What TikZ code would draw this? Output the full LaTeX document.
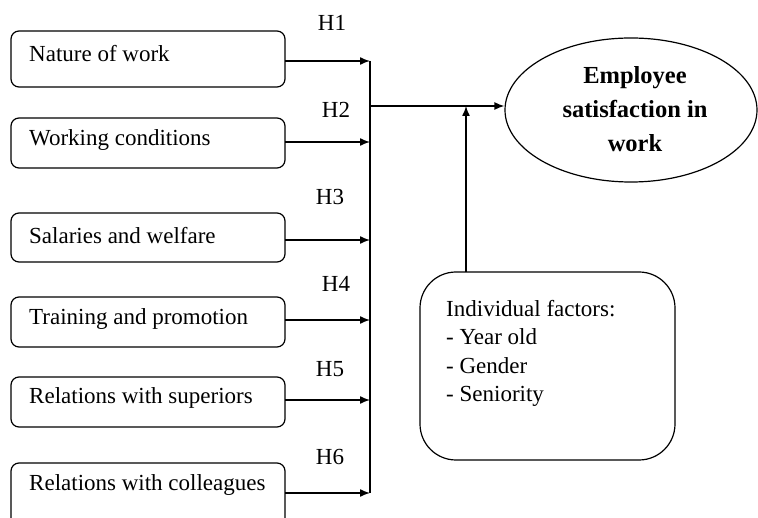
\documentclass[tikz,border=0pt]{standalone}
\usepackage{fontspec}
\setmainfont{Liberation Serif}
\usetikzlibrary{arrows.meta,shapes.geometric}
\begin{document}
\begin{tikzpicture}[x=1pt,y=-1pt,
  factorbox/.style={draw,line width=1.2pt,rounded corners=8pt},
  lbl/.style={font=\fontsize{23}{27}\selectfont,inner sep=0pt,anchor=west},
  hyp/.style={font=\fontsize{23}{27}\selectfont,inner sep=0pt},
  conn/.style={line width=1.4pt},
  arr/.style={line width=1.4pt,-{Latex[length=10pt,width=8pt]}}]
\useasboundingbox (0,0) rectangle (758,518);
\clip (0,0) rectangle (758,518);
% left boxes
\draw[factorbox] (11,31) rectangle (285,87);
\draw[factorbox] (11,118) rectangle (285,168);
\draw[factorbox] (11,213) rectangle (285,262);
\draw[factorbox] (11,297) rectangle (285,347);
\draw[factorbox] (11,377) rectangle (285,427);
\draw[factorbox] (11,463) rectangle (285,530);
\node[lbl] (t1) at (29,54) {Nature of work};
\node[lbl] (t2) at (29,140) {Working conditions};
\node[lbl] (t3) at (29,236) {Salaries and welfare};
\node[lbl] (t4) at (29,319) {Training and promotion};
\node[lbl] (t5) at (29,398) {Relations with superiors};
\node[lbl] (t6) at (29,485) {Relations with colleagues};
% junctions
\coordinate (s1) at (285,61); \coordinate (e1) at (370,61);
\coordinate (s2) at (285,142); \coordinate (e2) at (370,142);
\coordinate (s3) at (285,240); \coordinate (e3) at (370,240);
\coordinate (s4) at (285,320); \coordinate (e4) at (370,320);
\coordinate (s5) at (285,400); \coordinate (e5) at (370,400);
\coordinate (s6) at (285,493); \coordinate (e6) at (370,493);
\foreach \i in {1,...,6} {\draw[arr] (s\i) -- (e\i);}
\draw[conn] (e1) -- (e6);
\node[hyp] (h1) at (332,23) {H1};
\node[hyp] (h2) at (336,110) {H2};
\node[hyp] (h3) at (330,197) {H3};
\node[hyp] (h4) at (336,284) {H4};
\node[hyp] (h5) at (330,369) {H5};
\node[hyp] (h6) at (330,457) {H6};
% outcome
\node[draw,ellipse,line width=1.2pt,minimum width=252pt,minimum height=144pt,inner sep=0pt] (sat) at (631,110) {};
\node[font=\bfseries\fontsize{24.5}{34}\selectfont,align=center] (satt) at (635,109) {Employee\\satisfaction in\\work};
\coordinate (m) at (370,106);
\draw[arr] (m) -- (m -| sat.west);
% individual factors
\draw[line width=1.2pt,rounded corners=36pt] (420,272) rectangle (675,460);
\coordinate (ind) at (466,272);
\coordinate (tip) at (466,106);
\draw[arr] (ind) -- (tip);
\node[font=\fontsize{23}{28.5}\selectfont,align=left,anchor=north west,inner sep=0pt] (indt) at (446,300) {Individual factors:\\- Year old\\- Gender\\- Seniority};
\end{tikzpicture}
\end{document}
